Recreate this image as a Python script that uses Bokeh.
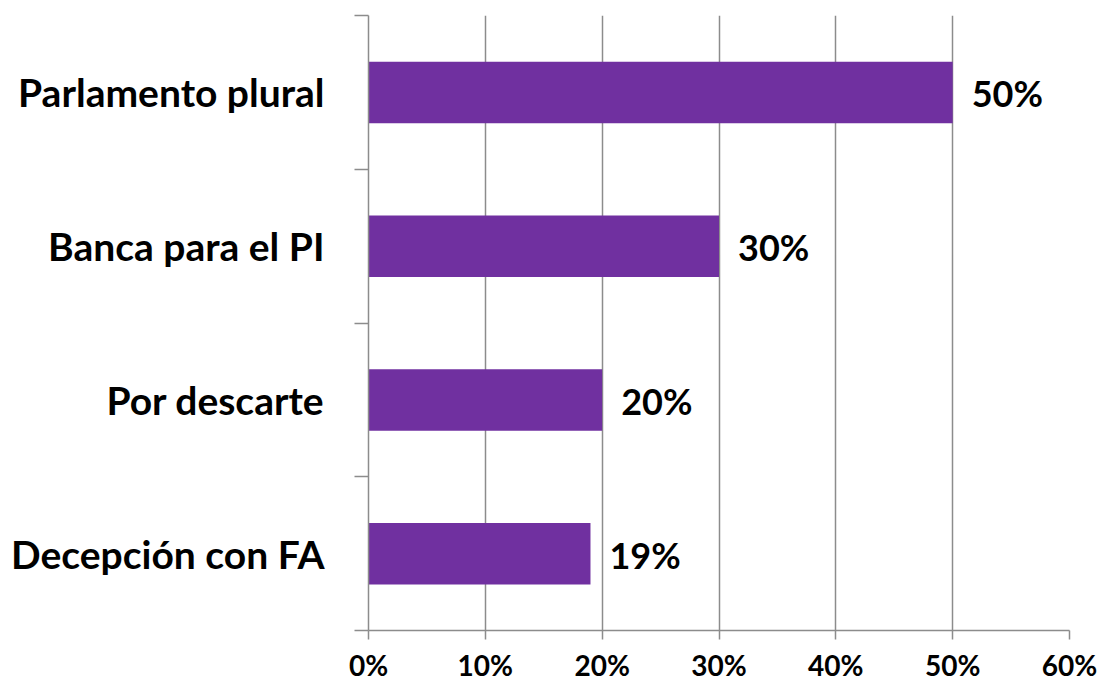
from bokeh.plotting import figure
from bokeh.models import FixedTicker, NumeralTickFormatter, ColumnDataSource, Range1d
from bokeh.embed import file_html
from bokeh.resources import INLINE
from bokeh.core.properties import value

categories = ["Parlamento plural", "Banca para el PI", "Por descarte", "Decepción con FA"]
values = [0.50, 0.30, 0.20, 0.19]
labels = ["50%", "30%", "20%", "19%"]
x_ticks = [0.0, 0.1, 0.2, 0.3, 0.4, 0.5, 0.6]

n = len(categories)
ypos = [n - i - 0.5 for i in range(n)]
src = ColumnDataSource(dict(y=ypos, v=values, lab=labels, cat=categories))

FONT = "Lato"
PURPLE = "#7030A0"
GRID = "#8c8c8c"

p = figure(width=1100, height=684, output_backend="svg", toolbar_location=None,
           x_range=Range1d(0, 0.6), y_range=Range1d(0, n),
           min_border_left=368, min_border_right=31, min_border_top=15, min_border_bottom=52)
p.outline_line_color = None
p.background_fill_color = "white"

p.hbar(y="y", right="v", left=0, height=0.4, source=src, fill_color=PURPLE, line_color=None)
p.text(x="v", y="y", text="lab", source=src, x_offset=19, y_offset=1,
       text_font=value(FONT), text_font_style="bold", text_font_size="36px",
       text_baseline="middle", text_align="left", text_color="black")

# x axis
p.xaxis.ticker = FixedTicker(ticks=x_ticks)
p.xaxis.formatter = NumeralTickFormatter(format="0%")
p.xaxis.axis_line_color = GRID
p.xaxis.axis_line_width = 1.5
p.xaxis.major_tick_line_color = GRID
p.xaxis.major_tick_line_width = 1.5
p.xaxis.major_tick_in = 0
p.xaxis.major_tick_out = 9
p.xaxis.minor_tick_line_color = None
p.xaxis.major_label_text_font = FONT
p.xaxis.major_label_text_font_style = "bold"
p.xaxis.major_label_text_font_size = "28px"
p.xaxis.major_label_text_color = "black"
p.xaxis.major_label_standoff = 8

# y axis
p.yaxis.ticker = FixedTicker(ticks=ypos, minor_ticks=list(range(n + 1)))
p.yaxis.major_label_overrides = {y: c for y, c in zip(ypos, categories)}
p.yaxis.axis_line_color = GRID
p.yaxis.axis_line_width = 1.5
p.yaxis.major_tick_line_color = None
p.yaxis.major_tick_in = 0
p.yaxis.major_tick_out = 0
p.yaxis.minor_tick_line_color = GRID
p.yaxis.minor_tick_line_width = 1.5
p.yaxis.minor_tick_in = 0
p.yaxis.minor_tick_out = 14
p.yaxis.major_label_text_font = FONT
p.yaxis.major_label_text_font_style = "bold"
p.yaxis.major_label_text_font_size = "39px"
p.yaxis.major_label_text_color = "black"
p.yaxis.major_label_standoff = 30

p.xgrid.ticker = FixedTicker(ticks=x_ticks)
p.xgrid.grid_line_color = GRID
p.xgrid.grid_line_width = 1.5
p.ygrid.grid_line_color = None

open("out.html", "w").write(file_html(p, INLINE))
